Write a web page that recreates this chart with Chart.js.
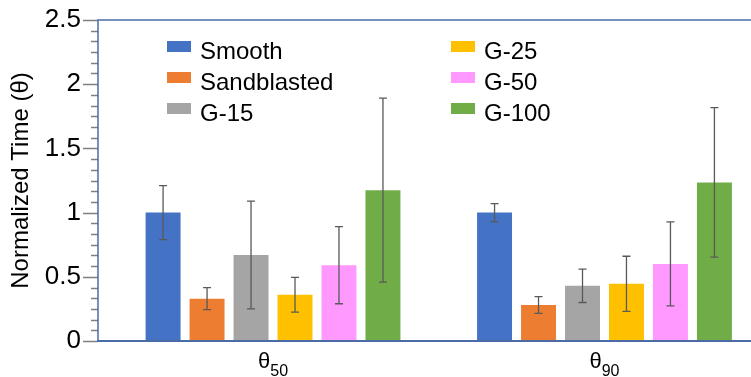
<!DOCTYPE html>
<html>
<head>
<meta charset="utf-8">
<script src="https://cdn.jsdelivr.net/npm/chart.js@4.4.0/dist/chart.umd.min.js"></script>
<style>
  html, body { margin: 0; padding: 0; background: #fff; }
  #wrap { width: 751px; height: 377px; }
</style>
</head>
<body>
<div id="wrap"><canvas id="myChart"></canvas></div>
<script>
// categories (theta + subscript)
var categories = ["θ50", "θ90"];
var seriesNames = ["Smooth", "Sandblasted", "G-15", "G-25", "G-50", "G-100"];
var seriesColors = ["#4472C4", "#ED7D31", "#A5A5A5", "#FFC000", "#FF99FF", "#70AD47"];

// values per series [theta50, theta90]
var smooth = [1.0, 1.0];
var sandblasted = [0.33, 0.28];
var g15 = [0.67, 0.43];
var g25 = [0.36, 0.445];
var g50 = [0.59, 0.6];
var g100 = [1.175, 1.235];

// error bar half widths
var smoothErr = [0.21, 0.07];
var sandblastedErr = [0.085, 0.065];
var g15Err = [0.42, 0.13];
var g25Err = [0.135, 0.215];
var g50Err = [0.3, 0.327];
var g100Err = [0.716, 0.582];

var yTicks = [0, 0.5, 1, 1.5, 2, 2.5];

var allValues = [smooth, sandblasted, g15, g25, g50, g100];
var allErrors = [smoothErr, sandblastedErr, g15Err, g25Err, g50Err, g100Err];

var FONT = "Arial, 'Liberation Sans', sans-serif";
var FRAME = "#4A6DA7";

var datasets = [];
seriesNames.forEach(function (name, i) {
  datasets.push({
    label: name,
    data: allValues[i].map(function (v, j) { return { x: j, y: v }; }),
    errors: allErrors[i],
    backgroundColor: seriesColors[i],
    borderWidth: 0,
    categoryPercentage: 0.796,
    barPercentage: 0.795,
  });
});

// frame, tick marks, error bars, legend, x labels
const extras = {
  id: "extras",
  afterDatasetsDraw(chart) {
    const { ctx, scales: { y } } = chart;

    // error bars
    ctx.save();
    ctx.strokeStyle = "#595959";
    ctx.lineWidth = 1.3;
    chart.data.datasets.forEach(function (ds, di) {
      chart.getDatasetMeta(di).data.forEach(function (bar, j) {
        var v = ds.data[j].y, e = ds.errors[j];
        var yt = y.getPixelForValue(v + e), yb = y.getPixelForValue(v - e);
        ctx.beginPath();
        ctx.moveTo(bar.x, yt); ctx.lineTo(bar.x, yb);
        ctx.moveTo(bar.x - 4, yt); ctx.lineTo(bar.x + 4, yt);
        ctx.moveTo(bar.x - 4, yb); ctx.lineTo(bar.x + 4, yb);
        ctx.stroke();
      });
    });
    ctx.restore();
  },
  afterDraw(chart) {
    const { ctx, chartArea, scales: { x, y } } = chart;
    ctx.save();

    // tick marks on y
    ctx.strokeStyle = "#7F7F7F";
    ctx.lineWidth = 1.5;
    for (var k = 0; k <= 30; k++) {
      var val = k * 0.5 / 6;
      var py = Math.round(y.getPixelForValue(val)) + 0.5;
      var major = k % 6 === 0;
      ctx.beginPath();
      ctx.moveTo(chartArea.left - (major ? 15 : 7), py);
      ctx.lineTo(chartArea.left, py);
      ctx.stroke();
    }

    // frame
    ctx.strokeStyle = FRAME;
    ctx.lineWidth = 1.5;
    ctx.beginPath();
    ctx.moveTo(chartArea.right, chartArea.top);
    ctx.lineTo(chartArea.left, chartArea.top);
    ctx.lineTo(chartArea.left, chartArea.bottom);
    ctx.stroke();
    ctx.lineWidth = 2.2;
    ctx.beginPath();
    ctx.moveTo(chartArea.left - 1, chartArea.bottom);
    ctx.lineTo(chartArea.right, chartArea.bottom);
    ctx.stroke();

    // x labels with subscripts
    ctx.fillStyle = "#000";
    ctx.textBaseline = "alphabetic";
    categories.forEach(function (c, i) {
      var cx = x.getPixelForValue(i);
      var main = c.charAt(0), sub = c.slice(1);
      ctx.font = "22px " + FONT;
      var w1 = ctx.measureText(main).width;
      ctx.font = "16px " + FONT;
      var w2 = ctx.measureText(sub).width;
      var sx = cx - (w1 + w2) / 2;
      ctx.font = "22px " + FONT;
      ctx.textAlign = "left";
      ctx.fillText(main, sx, 368);
      ctx.font = "16px " + FONT;
      ctx.fillText(sub, sx + w1, 376);
    });

    // legend, two columns of three
    ctx.font = "24px " + FONT;
    ctx.textAlign = "left";
    var colX = [167, 451];
    var rowY = [41, 72, 103];
    chart.data.datasets.forEach(function (ds, i) {
      var bx = colX[Math.floor(i / 3)], by = rowY[i % 3];
      ctx.fillStyle = ds.backgroundColor;
      ctx.fillRect(bx, by, 24, 11);
      ctx.fillStyle = "#000";
      ctx.fillText(ds.label, bx + 33, by + 18);
    });

    ctx.restore();
  },
};

const config = {
  type: "bar",
  data: { datasets: datasets },
  options: {
    responsive: true,
    maintainAspectRatio: false,
    animation: false,
    devicePixelRatio: 1,
    layout: { padding: { top: 20, right: 0, bottom: 36, left: 0 } },
    plugins: { legend: { display: false }, tooltip: { enabled: false } },
    scales: {
      x: {
        type: "linear",
        display: false,
        offset: false,
        min: -0.528,
        max: 1.442,
        grid: { offset: false },
        afterBuildTicks: function (scale) {
          scale.ticks = categories.map(function (c, i) { return { value: i }; });
        },
        afterFit: function (scale) {
          scale.paddingLeft = 0; scale.paddingRight = 0;
          scale.paddingTop = 0; scale.paddingBottom = 0;
        },
      },
      y: {
        min: 0,
        max: 2.5,
        afterFit: function (scale) {
          scale.width = 98;
          scale.paddingTop = 0; scale.paddingBottom = 0;
        },
        afterBuildTicks: function (scale) {
          scale.ticks = yTicks.map(function (v) { return { value: v }; });
        },
        grid: { display: false, drawTicks: false },
        border: { display: false },
        ticks: {
          padding: 17,
          color: "#000",
          font: { family: FONT, size: 26 },
          callback: function (v) { return String(v); },
        },
        title: {
          display: true,
          text: "Normalized Time (θ)",
          color: "#000",
          font: { family: FONT, size: 24 },
          padding: { top: 7, bottom: 0 },
        },
      },
    },
  },
  plugins: [extras],
};

var chart = new Chart(document.getElementById("myChart"), config);
</script>
</body>
</html>
